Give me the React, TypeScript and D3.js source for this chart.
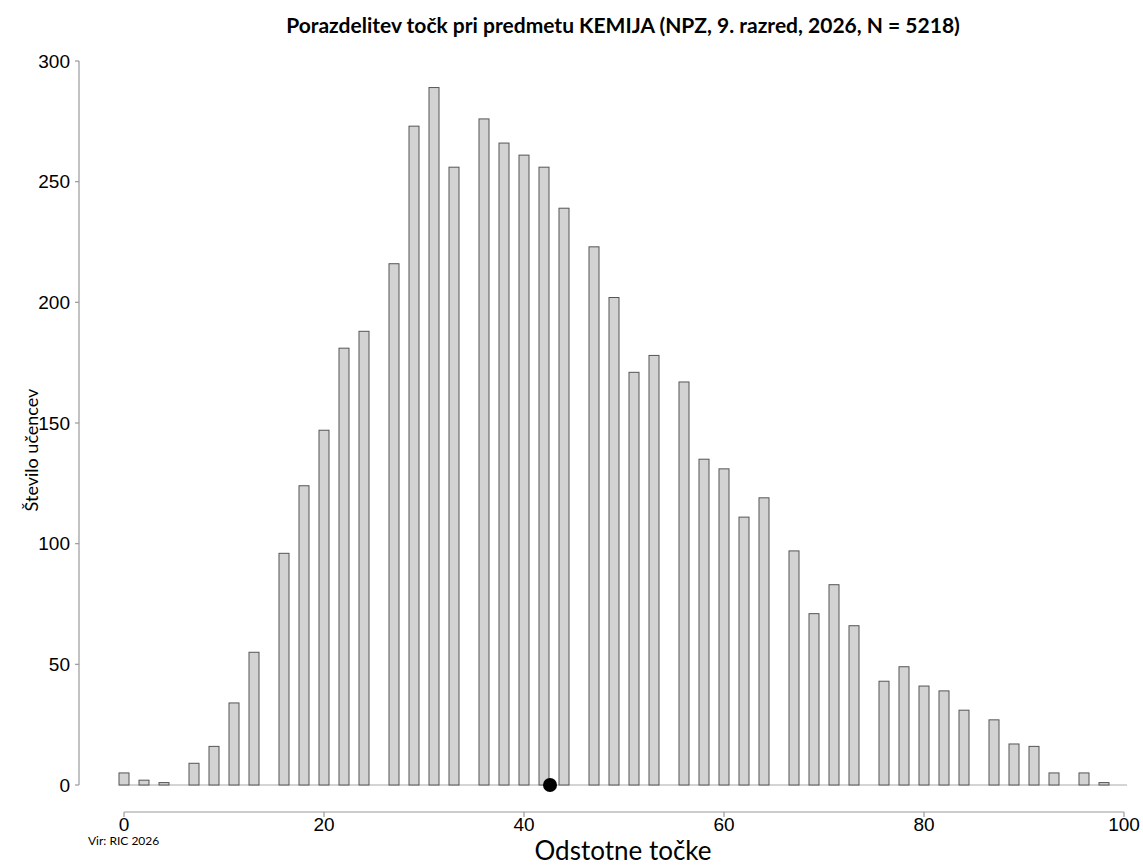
import React from 'react';
import * as d3 from 'd3';

// percentage points (rounded k/45*100) and number of students
const percents = [0, 2, 4, 7, 9, 11, 13, 16, 18, 20, 22, 24, 27, 29, 31, 33, 36, 38, 40, 42, 44, 47, 49, 51, 53, 56, 58, 60, 62, 64, 67, 69, 71, 73, 76, 78, 80, 82, 84, 87, 89, 91, 93, 96, 98];
const counts = [5, 2, 1, 9, 16, 34, 55, 96, 124, 147, 181, 188, 216, 273, 289, 256, 276, 266, 261, 256, 239, 223, 202, 171, 178, 167, 135, 131, 111, 119, 97, 71, 83, 66, 43, 49, 41, 39, 31, 27, 17, 16, 5, 5, 1];
const xTicks = [0, 20, 40, 60, 80, 100];
const yTicks = [0, 50, 100, 150, 200, 250, 300];
const meanPercent = 42.6;

const title = 'Porazdelitev točk pri predmetu KEMIJA (NPZ, 9. razred, 2026, N = 5218)';

const App = () => {
  const width = 1143;
  const height = 867;

  const x = d3.scaleLinear().domain([0, 100]).range([124, 1124]);
  const y = d3.scaleLinear().domain([0, 300]).range([785, 61]);

  const barW = x(1) - x(0);
  const axisY = 812;
  const axisX = 79;
  const labelFont = '"Liberation Sans", Arial, sans-serif';
  const titleFont = 'Lato, "Open Sans", sans-serif';

  return (
    <svg width={width} height={height} style={{ position: 'absolute', left: 0, top: 0, background: '#fff' }}>
      <text x={623} y={33} textAnchor="middle" fontFamily={titleFont} fontWeight={700} fontSize={21} fill="#000">
        {title}
      </text>

      {/* y axis */}
      <line x1={axisX} x2={axisX} y1={y(300)} y2={y(0)} stroke="#999" strokeWidth={1.2} />
      {yTicks.map(t => (
        <g key={t} transform={`translate(0,${y(t)})`}>
          <line x1={axisX - 4} x2={axisX} stroke="#999" strokeWidth={1.2} />
          <text x={70} dy="0.35em" textAnchor="end" fontFamily={labelFont} fontSize={19} fill="#000">{t}</text>
        </g>
      ))}
      <text transform={`translate(38,${450}) rotate(-90)`} textAnchor="middle" fontFamily={titleFont} fontSize={18} fill="#000">
        Število učencev
      </text>

      {/* baseline */}
      <line x1={x(0) - barW / 2} x2={x(100) + 3} y1={y(0)} y2={y(0)} stroke="#aaa" strokeWidth={1.2} />

      {/* bars */}
      {percents.map((p, i) => (
        <rect
          key={p}
          x={x(p) - barW / 2}
          y={y(counts[i])}
          width={barW}
          height={y(0) - y(counts[i])}
          fill="#d3d3d3"
          stroke="#555"
          strokeWidth={1}
        />
      ))}

      {/* mean */}
      <circle cx={x(meanPercent)} cy={y(0)} r={7} fill="#000" />

      {/* x axis */}
      <line x1={x(0)} x2={x(100)} y1={axisY} y2={axisY} stroke="#999" strokeWidth={1.2} />
      {xTicks.map(t => (
        <g key={t} transform={`translate(${x(t)},${axisY})`}>
          <line y1={0} y2={5} stroke="#999" strokeWidth={1.2} />
          <text y={19} textAnchor="middle" fontFamily={labelFont} fontSize={19} fill="#000">{t}</text>
        </g>
      ))}
      <text x={88} y={845} fontFamily={titleFont} fontSize={12} fill="#000">Vir: RIC 2026</text>
      <text x={623} y={860} textAnchor="middle" fontFamily={titleFont} fontSize={26} fill="#000">Odstotne točke</text>
    </svg>
  );
};

export default App;
